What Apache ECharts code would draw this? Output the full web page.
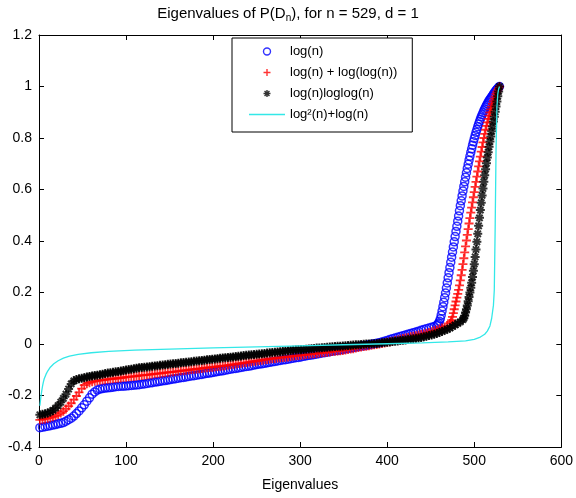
<!DOCTYPE html>
<html>
<head>
<meta charset="utf-8">
<script src="https://cdn.jsdelivr.net/npm/echarts@6/dist/echarts.min.js"></script>
<style>
html,body{margin:0;padding:0;background:#fff;}
#chart{width:576px;height:498px;}
</style>
</head>
<body>
<div id="chart"></div>
<script>
// ---------- data (eigenvalue index -> eigenvalue) ----------
const xTicks = [0, 100, 200, 300, 400, 500, 600];
const yTicks = [-0.4, -0.2, 0, 0.2, 0.4, 0.6, 0.8, 1, 1.2];
const seriesNames = ['log(n)', 'log(n) + log(log(n))', 'log(n)loglog(n)', 'log\u00B2(n)+log(n)'];

// lower part: read every 3rd eigenvalue index, starting at index 1
const flatStep = 3;
const blueFlat = [-0.325,-0.323,-0.321,-0.319,-0.317,-0.315,-0.313,-0.310,-0.308,-0.305,-0.300,-0.294,-0.288,-0.280,-0.270,-0.260,-0.248,-0.236,-0.222,-0.209,-0.195,-0.186,-0.179,-0.175,-0.173,-0.171,-0.170,-0.169,-0.168,-0.166,-0.165,-0.164,-0.164,-0.163,-0.162,-0.161,-0.160,-0.159,-0.158,-0.156,-0.155,-0.153,-0.151,-0.150,-0.148,-0.147,-0.145,-0.143,-0.142,-0.140,-0.138,-0.136,-0.135,-0.133,-0.131,-0.130,-0.128,-0.126,-0.124,-0.123,-0.121,-0.119,-0.118,-0.116,-0.114,-0.113,-0.111,-0.109,-0.107,-0.105,-0.104,-0.102,-0.100,-0.098,-0.096,-0.095,-0.093,-0.091,-0.089,-0.087,-0.086,-0.084,-0.082,-0.080,-0.078,-0.077,-0.075,-0.073,-0.071,-0.069,-0.068,-0.066,-0.064,-0.062,-0.061,-0.059,-0.057,-0.055,-0.053,-0.052,-0.050,-0.048,-0.046,-0.044,-0.043,-0.041,-0.039,-0.037,-0.035,-0.034,-0.032,-0.030,-0.028,-0.026,-0.025,-0.023,-0.021,-0.019,-0.017,-0.016,-0.014,-0.012,-0.010,-0.008,-0.007,-0.005,-0.003,-0.001,0.001,0.003,0.005,0.008,0.011,0.014,0.017,0.020,0.023,0.026,0.029,0.032,0.035,0.038,0.041,0.044,0.047,0.050,0.053,0.056,0.059,0.062,0.065,0.068];
const redFlat = [-0.295,-0.293,-0.291,-0.289,-0.286,-0.283,-0.279,-0.274,-0.268,-0.261,-0.252,-0.241,-0.230,-0.216,-0.202,-0.188,-0.173,-0.160,-0.154,-0.150,-0.147,-0.145,-0.143,-0.141,-0.140,-0.139,-0.137,-0.136,-0.135,-0.134,-0.133,-0.132,-0.130,-0.129,-0.128,-0.127,-0.126,-0.125,-0.123,-0.122,-0.121,-0.120,-0.119,-0.117,-0.116,-0.115,-0.114,-0.113,-0.111,-0.110,-0.109,-0.108,-0.107,-0.105,-0.104,-0.103,-0.102,-0.101,-0.099,-0.098,-0.097,-0.096,-0.095,-0.093,-0.092,-0.091,-0.090,-0.089,-0.087,-0.086,-0.085,-0.084,-0.082,-0.081,-0.079,-0.078,-0.076,-0.075,-0.073,-0.072,-0.070,-0.069,-0.067,-0.066,-0.064,-0.063,-0.061,-0.060,-0.058,-0.057,-0.056,-0.054,-0.053,-0.052,-0.051,-0.050,-0.049,-0.047,-0.046,-0.045,-0.044,-0.043,-0.041,-0.040,-0.039,-0.038,-0.037,-0.035,-0.034,-0.033,-0.032,-0.031,-0.029,-0.028,-0.027,-0.026,-0.025,-0.023,-0.021,-0.019,-0.018,-0.016,-0.014,-0.012,-0.010,-0.009,-0.007,-0.005,-0.003,-0.002,0.000,0.002,0.004,0.007,0.009,0.011,0.014,0.016,0.018,0.021,0.023,0.025,0.028,0.030,0.032,0.035,0.037,0.039,0.042,0.045,0.048,0.051,0.054,0.058,0.062,0.066,0.071];
const blackFlat = [-0.275,-0.273,-0.271,-0.268,-0.264,-0.258,-0.249,-0.239,-0.226,-0.211,-0.195,-0.175,-0.155,-0.143,-0.138,-0.135,-0.133,-0.131,-0.128,-0.126,-0.124,-0.122,-0.121,-0.119,-0.117,-0.115,-0.113,-0.112,-0.110,-0.108,-0.107,-0.105,-0.103,-0.101,-0.099,-0.098,-0.096,-0.094,-0.092,-0.091,-0.090,-0.089,-0.088,-0.086,-0.085,-0.084,-0.083,-0.082,-0.081,-0.079,-0.078,-0.077,-0.076,-0.075,-0.073,-0.072,-0.071,-0.070,-0.069,-0.067,-0.066,-0.065,-0.064,-0.063,-0.061,-0.060,-0.059,-0.058,-0.057,-0.055,-0.054,-0.053,-0.052,-0.051,-0.050,-0.049,-0.048,-0.047,-0.045,-0.044,-0.043,-0.042,-0.041,-0.040,-0.039,-0.038,-0.037,-0.035,-0.034,-0.033,-0.032,-0.031,-0.030,-0.029,-0.027,-0.026,-0.025,-0.024,-0.023,-0.022,-0.022,-0.021,-0.020,-0.019,-0.018,-0.017,-0.016,-0.016,-0.015,-0.014,-0.013,-0.012,-0.011,-0.010,-0.009,-0.009,-0.008,-0.007,-0.006,-0.005,-0.004,-0.003,-0.003,-0.002,-0.001,0.000,0.000,0.001,0.001,0.002,0.003,0.005,0.006,0.007,0.008,0.010,0.011,0.012,0.014,0.015,0.016,0.018,0.019,0.020,0.022,0.023,0.025,0.028,0.030,0.033,0.035,0.038,0.041,0.045,0.049,0.053,0.057,0.062,0.068,0.074,0.080,0.086];

// steep upper part: read at every index
const blueSteepStart = 457;
const blueSteep = [0.072,0.076,0.081,0.088,0.098,0.112,0.128,0.145,0.162,0.180,0.198,0.217,0.237,0.257,0.277,0.297,0.317,0.337,0.357,0.377,0.397,0.417,0.437,0.457,0.477,0.497,0.517,0.537,0.556,0.575,0.594,0.612,0.630,0.648,0.665,0.682,0.698,0.714,0.729,0.744,0.758,0.772,0.785,0.798,0.810,0.822,0.833,0.844,0.854,0.864,0.873,0.882,0.890,0.898,0.906,0.913,0.920,0.927,0.933,0.939,0.945,0.950,0.955,0.960,0.965,0.970,0.975,0.980,0.985,0.989,0.993,0.997,1.000];
const redSteepStart = 472;
const redSteep = [0.080,0.086,0.093,0.105,0.120,0.135,0.150,0.165,0.180,0.195,0.210,0.228,0.247,0.267,0.288,0.310,0.333,0.356,0.379,0.402,0.424,0.446,0.468,0.489,0.510,0.530,0.550,0.570,0.590,0.610,0.630,0.650,0.670,0.690,0.709,0.728,0.747,0.765,0.783,0.800,0.816,0.832,0.847,0.861,0.874,0.887,0.899,0.911,0.922,0.933,0.943,0.953,0.962,0.971,0.979,0.987,0.994,1.000];
const blackSteepStart = 487;
const blackSteep = [0.095,0.100,0.110,0.122,0.135,0.150,0.166,0.183,0.200,0.218,0.238,0.260,0.284,0.310,0.338,0.367,0.397,0.428,0.459,0.490,0.520,0.549,0.577,0.604,0.630,0.655,0.679,0.702,0.724,0.745,0.766,0.786,0.806,0.826,0.845,0.864,0.883,0.902,0.922,0.942,0.962,0.981,1.000];

const cyanX = [1,2,3,4,5,6,8,10,13,17,22,28,35,45,60,80,110,150,200,250,300,350,400,440,470,490,500,507,512,515,518,520,522,523,524,525,526,527,528,529];
const cyanY = [-0.24,-0.21,-0.185,-0.165,-0.148,-0.135,-0.118,-0.105,-0.09,-0.077,-0.065,-0.055,-0.047,-0.04,-0.034,-0.029,-0.024,-0.02,-0.015,-0.011,-0.007,-0.003,0.001,0.004,0.008,0.012,0.018,0.027,0.038,0.05,0.07,0.1,0.15,0.21,0.45,0.75,0.92,0.97,0.99,1.0];

// ---------- helpers ----------
function build(flat, steepStart, steep) {
  const pts = [];
  flat.forEach((v, i) => pts.push([1 + i * flatStep, v]));
  steep.forEach((v, i) => pts.push([steepStart + i, v]));
  return pts;
}
const bluePts = build(blueFlat, blueSteepStart, blueSteep);
const redPts = build(redFlat, redSteepStart, redSteep);
const blackPts = build(blackFlat, blackSteepStart, blackSteep);
const cyanPts = cyanX.map((x, i) => [x, cyanY[i]]);

const FONT = 'Liberation Sans, Arial, Helvetica, sans-serif';
const CYAN = '#33e8e8';
const plusPath = 'path://M5,0L5,10M0,5L10,5';
const starPath = 'path://M5,0L5,10M0,5L10,5M1.5,1.5L8.5,8.5M8.5,1.5L1.5,8.5';

const chart = echarts.init(document.getElementById('chart'), null, {renderer: 'canvas'});

const axisCommon = {
  type: 'value',
  axisLine: {show: true, onZero: false, lineStyle: {color: '#000', width: 1}},
  axisTick: {show: true, inside: true, length: 5, lineStyle: {color: '#000', width: 1}},
  splitLine: {show: false}
};

chart.setOption({
  animation: false,
  backgroundColor: '#fff',
  title: {
    text: 'Eigenvalues of P(D{sub|n}), for n = 529, d = 1',
    left: 'center',
    top: 0,
    textStyle: {
      fontFamily: FONT, fontSize: 15, fontWeight: 'normal', color: '#000',
      rich: {sub: {fontFamily: FONT, fontSize: 10, color: '#000', verticalAlign: 'bottom', padding: [8, 0, 0, 0]}}
    }
  },
  grid: {left: 39, right: 13, top: 35, bottom: 51, containLabel: false},
  legend: {
    orient: 'vertical',
    left: 232,
    top: 38,
    itemWidth: 36,
    itemHeight: 7,
    itemGap: 8,
    padding: [7, 15, 11, 17],
    borderColor: '#000',
    borderWidth: 1,
    backgroundColor: '#fff',
    itemStyle: {borderWidth: 1.4},
    textStyle: {fontFamily: FONT, fontSize: 13, color: '#000'},
    data: [
      {name: seriesNames[0]},
      {name: seriesNames[1]},
      {name: seriesNames[2]},
      {name: seriesNames[3], icon: 'path://M0,0h36v1.3h-36z', itemStyle: {color: CYAN, borderWidth: 0}}
    ]
  },
  xAxis: [
    Object.assign({}, axisCommon, {
      min: 0, max: 600, interval: 100, position: 'bottom',
      axisLabel: {color: '#000', fontFamily: FONT, fontSize: 14, margin: 7},
      name: 'Eigenvalues', nameLocation: 'middle', nameGap: 31,
      nameTextStyle: {color: '#000', fontFamily: FONT, fontSize: 14}
    }),
    Object.assign({}, axisCommon, {
      min: 0, max: 600, interval: 100, position: 'top',
      axisLabel: {show: false}
    })
  ],
  yAxis: [
    Object.assign({}, axisCommon, {
      min: -0.4, max: 1.2, interval: 0.2, position: 'left',
      axisLabel: {color: '#000', fontFamily: FONT, fontSize: 14, margin: 7,
        formatter: v => String(Math.round(v * 10) / 10)}
    }),
    Object.assign({}, axisCommon, {
      min: -0.4, max: 1.2, interval: 0.2, position: 'right',
      axisLabel: {show: false}
    })
  ],
  series: [
    {
      name: seriesNames[0], type: 'scatter', data: bluePts,
      symbol: 'circle', symbolSize: 8,
      itemStyle: {color: 'rgba(0,0,0,0)', borderColor: '#0000ff', borderWidth: 1.5}
    },
    {
      name: seriesNames[1], type: 'scatter', data: redPts,
      symbol: plusPath, symbolSize: 9,
      itemStyle: {color: 'rgba(0,0,0,0)', borderColor: '#ff0000', borderWidth: 1.8}
    },
    {
      name: seriesNames[2], type: 'scatter', data: blackPts,
      symbol: starPath, symbolSize: 9,
      itemStyle: {color: 'rgba(0,0,0,0)', borderColor: '#000000', borderWidth: 2}
    },
    {
      name: seriesNames[3], type: 'line', data: cyanPts,
      symbol: 'none', showSymbol: false,
      lineStyle: {color: CYAN, width: 1.3},
      itemStyle: {color: CYAN}
    }
  ]
});
</script>
</body>
</html>
